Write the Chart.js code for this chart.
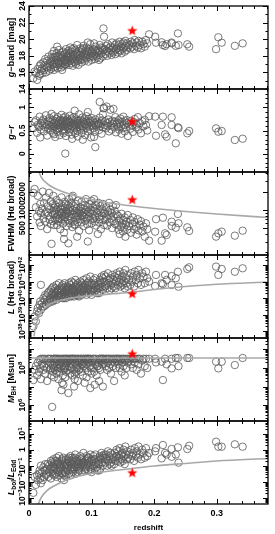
<!DOCTYPE html>
<html><head><meta charset="utf-8">
<style>html,body{margin:0;padding:0;background:#fff;overflow:hidden}canvas{display:block}</style>
<script src="https://cdn.jsdelivr.net/npm/chart.js@4.4.1/dist/chart.umd.min.js"></script>
</head><body>
<canvas id="c" width="275" height="534" style="width:275px;height:534px"></canvas>
<script>
// ---------------- data ----------------
const redshift = [
0.007,0.009,0.011,0.013,0.014,0.016,0.017,0.018,0.019,0.019,
0.021,0.022,0.023,0.024,0.025,0.026,0.027,0.028,0.029,0.030,0.031,0.032,0.033,0.034,0.035,0.035,0.036,0.037,0.038,0.038,0.039,0.039,0.040,0.040,0.040,
0.041,0.042,0.042,0.043,0.044,0.044,0.045,0.046,0.046,0.047,0.048,0.048,0.049,0.050,0.050,0.051,0.052,0.052,0.053,0.054,0.054,0.055,0.055,0.056,0.057,0.057,0.058,0.058,0.059,0.059,0.060,0.060,0.045,0.053,0.056,
0.061,0.062,0.062,0.063,0.064,0.064,0.065,0.066,0.066,0.067,0.068,0.068,0.069,0.070,0.070,0.071,0.072,0.072,0.073,0.074,0.074,0.075,0.076,0.076,0.077,0.078,0.078,0.079,0.080,0.080,0.058,0.069,0.073,0.077,0.063,
0.081,0.082,0.082,0.083,0.084,0.084,0.085,0.086,0.087,0.087,0.088,0.089,0.090,0.090,0.091,0.092,0.092,0.093,0.094,0.095,0.095,0.096,0.097,0.098,0.098,0.099,0.100,0.100,0.086,0.094,
0.101,0.102,0.103,0.104,0.105,0.106,0.106,0.107,0.108,0.109,0.113,0.111,0.112,0.113,0.114,0.115,0.116,0.117,0.118,0.119,0.120,0.110,0.104,0.112,0.118,
0.121,0.122,0.123,0.124,0.125,0.126,0.127,0.128,0.129,0.130,0.131,0.132,0.133,0.134,0.135,0.136,0.137,0.138,0.139,0.140,
0.141,0.142,0.143,0.144,0.145,0.146,0.147,0.148,0.149,0.150,0.151,0.152,0.153,0.154,0.155,0.156,0.157,0.158,
0.160,0.162,0.163,0.165,0.166,0.168,0.169,0.171,0.172,0.174,0.175,0.177,0.179,0.181,0.183,0.185,0.187,0.189,
0.192,0.2016,0.203,0.212,0.214,0.2175,0.220,0.228,0.228,0.2346,0.238,0.239,0.253,0.256,0.299,0.3026,0.308,0.329,0.3415
];
const gBand = [
15.3,16.1,15.9,15.1,16.4,15.6,16.8,15.8,16.2,17.0,
16.5,15.9,17.2,16.3,16.9,17.6,16.0,16.7,17.4,16.6,17.9,16.2,17.1,16.8,17.7,16.4,17.3,18.2,16.9,17.5,16.6,17.8,17.0,18.6,16.3,
17.2,17.9,16.7,17.5,18.3,17.0,17.6,16.5,18.0,17.3,18.7,17.1,17.8,16.9,18.1,17.4,16.6,17.7,18.4,17.2,17.9,16.8,18.5,17.5,17.0,18.2,17.6,16.9,18.8,17.3,17.8,18.3,19.1,16.3,17.4,
17.5,18.0,17.2,18.6,17.7,16.9,18.3,17.4,19.0,17.9,17.1,18.5,17.6,18.2,16.8,17.8,18.9,17.3,18.1,17.5,18.7,17.0,18.4,17.7,19.3,17.4,18.0,16.9,18.6,17.6,17.0,18.8,17.2,18.2,17.9,
18.1,17.5,18.9,17.8,18.4,17.2,18.7,18.0,17.6,19.2,18.3,17.4,18.6,17.9,18.2,19.0,17.7,18.5,18.1,17.3,18.8,18.4,17.8,18.6,19.4,18.0,18.3,17.5,18.9,19.6,
18.5,17.9,18.8,18.2,17.6,18.6,19.1,18.0,18.4,17.8,19.3,18.7,18.1,18.5,17.7,19.0,18.3,18.9,17.9,21.3,20.3,18.6,19.5,17.5,18.7,
18.8,18.2,19.2,18.6,18.0,19.4,18.5,18.9,18.3,19.1,18.7,18.1,19.6,18.4,19.0,18.6,19.3,18.2,18.8,19.5,
18.9,18.4,19.3,18.7,19.7,18.6,19.1,18.3,19.4,18.8,19.6,19.0,18.5,19.8,19.2,18.7,19.5,19.0,
19.3,18.9,19.7,19.1,19.5,18.8,19.9,19.2,19.6,19.0,19.8,19.3,18.9,19.7,19.4,19.1,19.9,19.5,
20.59,20.3,19.58,19.63,19.3,19.18,19.4,19.5,19.6,19.2,20.7,19.3,19.39,19.1,18.8,20.23,19.58,19.2,19.5
];
const gMinusR = [
0.55,0.68,0.72,0.45,0.62,0.58,0.80,0.35,0.66,0.52,
0.70,0.61,0.74,0.48,0.66,0.57,0.83,0.64,0.39,0.71,0.55,0.62,0.77,0.50,0.68,0.59,0.86,0.63,0.45,0.73,0.60,0.54,0.67,0.81,0.42,
0.58,0.70,0.36,0.64,0.52,0.75,0.61,0.47,0.79,0.66,0.55,0.69,0.40,0.62,0.73,0.57,0.84,0.65,0.50,0.72,0.60,0.44,0.77,0.63,0.68,0.53,0.80,0.59,0.66,0.38,0.71,0.58,0.62,0.70,0.48,
0.64,0.56,0.74,0.60,0.46,0.69,0.82,0.62,0.53,0.67,0.41,0.76,0.59,0.65,0.72,0.50,0.63,0.79,0.57,0.68,0.44,0.61,0.74,0.55,0.66,0.37,0.71,0.64,0.58,0.85,0.0,0.32,0.93,0.49,0.70,
0.62,0.54,0.73,0.67,0.45,0.60,0.78,0.58,0.69,0.51,0.64,0.74,0.40,0.63,0.70,0.56,0.81,0.61,0.48,0.68,0.75,0.59,0.66,0.52,0.71,0.35,0.63,0.77,0.30,0.90,
0.60,0.70,0.55,0.66,0.47,0.14,0.74,0.62,0.58,0.69,1.12,0.64,0.51,0.78,0.60,0.67,0.43,0.72,0.57,0.98,0.99,0.63,0.36,0.66,0.85,
0.62,0.70,0.55,1.02,0.66,0.59,0.74,0.48,0.68,0.95,0.61,0.52,0.71,0.65,0.97,0.57,0.69,0.79,0.46,0.63,
0.67,0.58,0.72,0.52,0.64,0.76,0.60,0.43,0.69,0.55,0.80,0.62,0.48,0.70,0.57,0.73,0.66,0.38,
0.64,0.54,0.71,0.60,0.47,0.68,0.75,0.57,0.63,0.79,0.52,0.66,0.44,0.70,0.59,0.73,0.62,0.50,
0.81,0.80,0.387,0.62,0.80,0.417,0.365,0.786,0.62,0.222,0.57,0.55,0.439,0.489,0.547,0.474,0.489,0.294,0.322
];
const fwhmHa = [
1900,2200,1100,780,1700,950,620,1250,880,540,
1050,2000,720,1300,860,640,1600,930,480,1150,800,1900,690,1020,580,1380,275,900,1250,650,1700,830,1080,560,960,
870,1200,680,990,760,1450,560,1100,820,650,940,1300,720,1050,480,880,1600,700,1000,590,1150,800,920,420,1350,750,1080,640,860,1250,540,970,700,850,330,
900,1200,680,1020,780,1500,600,950,1100,720,860,1300,520,990,1700,640,830,1150,560,940,760,1250,690,1050,880,620,1400,800,970,450,760,1600,580,360,280,
880,1100,700,940,620,1350,800,1050,540,900,760,1200,660,990,1500,720,850,580,1100,930,780,460,1250,690,890,1000,600,1400,820,300,
850,1100,720,960,640,1200,780,550,1050,880,700,1300,620,940,1150,480,800,1020,690,870,560,400,1500,760,1250,
900,680,1100,760,550,940,820,1300,620,1000,720,880,500,1150,780,650,960,580,1200,840,
560,800,470,660,400,720,530,860,600,440,680,510,750,360,570,630,470,820,
540,680,420,590,750,480,630,530,390,700,460,570,650,440,530,360,600,480,
310,436,700,310,741,410,385,637,541,507,853,600,515,448,361,410,436,375,453
];
const logLHa = [
38.3,38.9,38.6,39.2,39.4,39.1,39.6,39.8,40.8,39.3,
39.7,39.5,40.0,39.5,39.9,40.2,39.6,40.1,39.8,40.3,39.7,40.4,39.9,40.0,40.5,39.8,40.2,40.6,39.8,40.3,40.0,40.7,39.9,40.4,40.1,
40.2,40.6,40.0,40.3,40.8,39.9,40.4,40.1,40.5,40.2,40.9,40.0,40.3,40.6,40.1,40.4,40.7,40.2,40.5,40.0,40.8,40.3,40.6,40.1,40.4,40.9,40.2,40.5,40.7,40.0,40.3,40.6,40.4,40.2,40.0,
40.5,40.2,40.7,40.4,40.9,40.1,40.6,40.3,40.8,40.1,40.5,41.0,40.2,40.6,40.4,40.9,40.3,40.1,40.7,40.5,41.1,40.2,40.8,40.4,40.6,40.15,40.9,40.3,40.7,40.1,40.2,40.6,40.4,40.2,40.5,
40.6,40.3,41.0,40.5,40.8,40.2,40.9,40.4,40.7,41.1,40.5,40.3,40.8,40.6,40.4,41.2,40.2,40.9,40.6,40.3,41.0,40.7,40.5,40.8,41.3,40.4,40.9,40.2,40.6,40.5,
40.8,40.5,41.1,40.6,40.4,40.9,41.2,40.7,40.5,40.3,41.0,40.8,40.6,41.1,40.4,40.9,41.3,40.7,40.5,41.0,41.4,40.6,40.8,40.3,41.2,
41.0,40.7,41.3,40.8,40.6,41.5,40.9,41.1,40.5,41.2,40.8,40.6,41.4,40.9,41.1,40.7,41.3,40.6,41.0,41.5,
41.2,40.8,41.4,41.0,41.6,40.7,41.1,40.9,41.3,40.8,41.5,41.0,40.6,41.7,41.2,40.9,41.4,40.7,
41.1,40.8,41.5,41.0,41.3,40.7,41.6,41.1,41.4,40.9,41.7,41.2,40.8,41.5,41.3,40.9,41.6,41.2,
41.0,40.73,41.4,40.9,40.85,41.4,41.1,40.79,41.33,41.2,41.59,40.69,41.76,41.86,41.9,41.4,41.76,41.59,41.8
];
const logMBH = [
7.35,7.9,8.1,7.6,8.3,7.8,8.45,8.0,8.5,7.4,
8.2,8.5,7.9,8.1,8.5,7.7,8.4,8.0,7.3,8.5,8.2,8.5,7.9,8.3,8.0,8.5,7.6,5.9,8.1,7.8,8.5,8.2,7.5,8.5,8.0,
8.3,8.5,7.9,8.1,8.5,7.7,8.4,8.0,8.5,7.4,8.2,8.5,7.8,8.3,8.0,8.5,6.8,8.1,8.4,7.6,8.5,7.1,7.9,8.5,8.0,8.3,7.5,8.5,8.1,7.8,8.4,8.5,8.2,7.2,8.0,
8.3,8.5,7.9,6.65,8.4,8.1,8.5,7.7,8.3,8.5,8.0,8.4,7.6,8.5,8.2,7.9,8.5,7.0,7.4,8.3,8.5,7.8,8.4,8.0,8.5,7.3,8.2,8.5,7.9,8.3,8.1,8.5,7.7,8.0,8.4,
8.4,8.5,8.0,7.8,8.5,8.2,8.4,7.6,8.5,8.1,8.3,7.2,8.5,8.0,8.5,8.2,7.5,8.4,8.5,7.8,8.3,8.5,8.1,6.92,8.5,8.0,8.4,7.7,8.2,8.5,
8.3,8.5,8.0,7.8,7.1,8.2,8.4,8.5,7.6,8.1,8.5,8.3,8.0,8.5,7.9,8.4,8.5,8.2,7.0,8.5,8.3,8.1,8.5,7.3,8.5,
8.4,8.5,8.1,8.5,7.9,8.3,8.5,8.0,8.5,8.2,7.7,8.5,8.4,8.1,8.5,7.3,8.3,8.5,8.0,8.5,
8.4,8.5,8.2,8.5,8.0,8.4,8.5,7.8,8.3,8.5,8.1,8.5,7.6,8.4,8.5,8.0,8.3,8.5,
8.4,8.5,8.2,8.5,8.0,8.5,8.3,8.5,7.9,8.5,8.2,8.5,7.7,8.4,8.5,8.1,8.5,8.0,
8.5,8.5,8.3,8.34,7.35,8.5,8.2,7.98,8.5,8.54,8.54,8.1,8.54,8.54,8.34,7.98,8.34,8.16,8.54
];
const logEdd = [
-2.7,-1.7,-2.2,-1.6,-1.9,-1.5,-1.3,-1.8,-1.0,-2.1,
-1.4,-1.9,-1.1,-1.7,-1.3,-0.9,-1.6,-1.2,-1.5,-0.9,-1.7,-1.0,-1.4,-1.2,-0.7,-1.8,-1.1,-0.8,-1.5,-1.0,-1.3,-0.6,-1.6,-0.9,-1.2,
-1.1,-0.7,-1.5,-1.2,-0.5,-1.7,-0.9,-1.4,-0.8,-1.3,-0.4,-1.6,-1.0,-1.2,-0.9,-1.1,-1.8,-0.7,-0.6,-1.5,-0.9,-1.3,-0.5,-1.0,-1.6,-0.8,-1.2,-1.4,-0.6,-1.7,-0.9,-1.1,-0.7,-1.5,-1.9,
-0.9,-1.3,-0.6,-1.0,-0.5,-1.5,-0.8,-1.2,-0.4,-1.6,-1.1,-0.7,-0.9,-1.3,-1.4,-0.6,-0.8,-1.2,-0.5,-1.0,-0.3,-1.5,-0.7,-1.1,-0.6,-1.4,-0.9,-1.2,-0.8,-1.3,-1.0,-0.5,-1.1,-0.9,-0.7,
-0.7,-1.1,-0.4,-0.9,-0.6,-1.4,-0.5,-1.0,-0.8,-0.2,-0.9,-1.3,-0.7,-1.1,-1.2,-0.4,-1.0,-0.6,-0.9,-1.3,-0.5,-0.8,-1.1,-0.7,-0.3,-1.2,-0.6,-1.4,-0.8,-0.5,
-0.7,-1.0,-0.4,-0.9,-1.2,-0.6,-0.3,-0.8,-1.1,-1.3,-0.5,-0.7,-0.9,-0.4,-1.2,-0.6,-0.2,-0.8,-1.0,-0.5,-0.3,-0.9,-0.6,-1.3,-0.4,
-0.5,-0.8,-0.3,-0.6,-1.0,-0.1,-0.7,-0.4,-0.9,-0.2,-0.8,-1.0,-0.3,-0.6,-0.5,-0.9,-0.2,-0.7,-0.4,0.0,
-0.4,-0.7,-0.1,-0.5,0.1,-0.8,-0.3,-0.6,-0.2,-0.7,0.0,-0.4,-0.9,0.2,-0.3,-0.6,-0.1,-0.5,
-0.3,-0.6,0.0,-0.4,-0.2,-0.7,0.1,-0.4,-0.1,-0.5,0.2,-0.3,-0.6,0.0,-0.2,-0.5,0.1,-0.4,
-0.2,-0.1,0.1,-0.54,0.296,-0.2,-0.3,0.046,-0.44,-0.3,0.15,-0.81,0.046,0.25,0.503,0.19,0.19,0.34,0.19
];
// limit curves (grey lines)
const curveZ      = [0.008,0.01,0.015,0.02,0.03,0.04,0.06,0.08,0.1,0.13,0.165,0.2,0.25,0.3,0.382];
const fwhmLimit   = [8000,7140,4530,3400,2660,2290,1890,1625,1480,1295,1155,1052,938,853,747];
const logLumLimit = [37.7,38.2,38.8,39.2,39.55,39.75,39.95,40.07,40.15,40.25,40.36,40.52,40.7,40.84,40.97];
const logEddLimit = [-5.0,-4.1,-3.4,-2.96,-2.52,-2.27,-1.9,-1.65,-1.49,-1.33,-1.18,-1.02,-0.86,-0.71,-0.55];
const mbhLimitZ   = [0, 0.382];
const logMbhLimit = [8.54, 8.54];
// red star object
const starRedshift = [0.165];
const starG = [21.0], starGR = [0.69], starFWHM = [1452], starLogL = [40.25], starLogM = [8.75], starLogEdd = [-1.46];
// tick values and labels
const xTickValues = [0, 0.1, 0.2, 0.3];
const xTickLabels = ['0', '0.1', '0.2', '0.3'];
const gBandTicks = [14,16,18,20,22,24];
const gBandTickLabels = ['14','16','18','20','22','24'];
const gMinusRTicks = [0, 0.5, 1];
const gMinusRTickLabels = ['0','0.5','1'];
const fwhmTicks = [500, 1000, 2000];
const fwhmTickLabels = ['500','1000','2000'];
const lumTicks = [1e38,1e39,1e40,1e41,1e42];
const lumTickLabels = ['10^38','10^39','10^40','10^41','10^42'];
const mbhTicks = [1e6, 1e8];
const mbhTickLabels = ['10^6','10^8'];
const eddTicks = [1e-3,1e-2,1e-1,1,10];
const eddTickLabels = ['10^\u22123','10^\u22122','10^\u22121','1','10^1'];

// ---------------- helpers ----------------
const FONT = '"Liberation Sans", Arial, Helvetica, sans-serif';
Chart.defaults.font.family = FONT;
const pow10 = v => Math.pow(10, v);
function linMinor(min, max, step){const a=[];for(let k=Math.ceil(min/step-1e-9);k*step<=max+1e-9;k++)a.push(+(k*step).toFixed(6));return a;}
function logMinor(lo, hi){const a=[];for(let e=Math.floor(lo);e<=Math.ceil(hi);e++)for(let m=1;m<10;m++){const v=m*Math.pow(10,e);const lv=Math.log10(v);if(lv>=lo-1e-9&&lv<=hi+1e-9)a.push({v,major:m===1});}return a;}

const panels = [
  {id:'y1', type:'linear', min:14, max:24, vals:gBand, star:starG,
   ticks:linMinor(14,24,1).map(v=>({v,major:v%2===0})), labV:gBandTicks, labT:gBandTickLabels,
   title:[{t:'g',it:1},{t:'\u2212band [mag]'}], tOff:0},
  {id:'y2', type:'linear', min:-0.4, max:1.4, vals:gMinusR, star:starGR,
   ticks:linMinor(-0.4,1.4,0.1).map(v=>({v,major:Math.abs(v*2-Math.round(v*2))<1e-6})), labV:gMinusRTicks, labT:gMinusRTickLabels,
   title:[{t:'g',it:1},{t:'\u2212'},{t:'r',it:1}], tOff:2},
  {id:'y3', type:'logarithmic', min:180, max:4200, vals:fwhmHa, star:starFWHM, cx:curveZ, cy:fwhmLimit,
   ticks:logMinor(Math.log10(180),Math.log10(4200)).map(o=>({v:o.v,major:[500,1000,2000].includes(o.v)})), labV:fwhmTicks, labT:fwhmTickLabels,
   title:[{t:'FWHM (H\u03b1 broad)'}], tOff:0},
  {id:'y4', type:'logarithmic', min:pow10(37.6), max:pow10(42.6), vals:logLHa.map(pow10), star:starLogL.map(pow10), cx:curveZ, cy:logLumLimit.map(pow10),
   ticks:logMinor(37.6,42.6), labV:lumTicks, labT:lumTickLabels,
   title:[{t:'L',it:1},{t:' (H\u03b1 broad)'}], tOff:-9},
  {id:'y5', type:'logarithmic', min:pow10(5.14), max:pow10(9.62), vals:logMBH.map(pow10), star:starLogM.map(pow10), cx:mbhLimitZ, cy:logMbhLimit.map(pow10),
   ticks:logMinor(5.14,9.62), labV:mbhTicks, labT:mbhTickLabels,
   title:[{t:'M',it:1},{t:'BH',sub:1},{t:' [Msun]'}], tOff:-1},
  {id:'y6', type:'logarithmic', min:pow10(-3.4), max:pow10(1.8), vals:logEdd.map(pow10), star:starLogEdd.map(pow10), cx:curveZ, cy:logEddLimit.map(pow10),
   ticks:logMinor(-3.4,1.8), labV:eddTicks, labT:eddTickLabels,
   title:[{t:'L',it:1},{t:'bol',sub:1},{t:'/'},{t:'L',it:1},{t:'Edd',sub:1}], tOff:15}
];

function makeStar(r){
  const s=Math.ceil(r*2+2), c=document.createElement('canvas'); c.width=s; c.height=s;
  const g=c.getContext('2d'); g.fillStyle='#ff0000'; g.beginPath();
  for(let i=0;i<10;i++){const rr=i%2===0?r:r*0.42;const a=-Math.PI/2+i*Math.PI/5;g.lineTo(s/2+rr*Math.cos(a),s/2+rr*Math.sin(a));}
  g.closePath(); g.fill(); return c;
}
const starImg = makeStar(5.4);

function drawRich(ctx, segs, cx, cy, size){
  const items = segs.map(s=>{
    const fs = (s.sup||s.sub) ? size*0.72 : size;
    const font = (s.it?'italic ':'')+'bold '+fs+'px '+FONT;
    ctx.font = font;
    return {s, font, w:ctx.measureText(s.t).width};
  });
  const W = items.reduce((a,b)=>a+b.w,0);
  ctx.save(); ctx.translate(cx,cy); ctx.rotate(-Math.PI/2);
  ctx.textAlign='left'; ctx.textBaseline='alphabetic'; ctx.fillStyle='#000';
  let x=-W/2; const base=size*0.36;
  items.forEach(it=>{
    ctx.font=it.font;
    const dy = it.s.sup ? -size*0.4 : it.s.sub ? size*0.25 : 0;
    ctx.fillText(it.s.t, x, base+dy); x+=it.w;
  });
  ctx.restore();
}
function labelSegs(t){ if(t.indexOf('^')<0) return [{t}]; const p=t.split('^'); return [{t:p[0]},{t:p[1],sup:1}]; }

const clipPlugin = {
  id:'panelClip',
  beforeDatasetDraw(chart,args){
    const ys=chart.scales[args.meta.yAxisID], ca=chart.chartArea, ctx=chart.ctx;
    ctx.save(); ctx.beginPath(); ctx.rect(ca.left, ys.top, ca.right-ca.left, ys.bottom-ys.top); ctx.clip();
  },
  afterDatasetDraw(chart){ chart.ctx.restore(); }
};
const framePlugin = {
  id:'frames',
  afterDatasetsDraw(chart){
    const ctx=chart.ctx, ca=chart.chartArea, xs=chart.scales.x;
    const l=ca.left, r=ca.right;
    ctx.save();
    panels.forEach(p=>{
      const ys=chart.scales[p.id], top=ys.top, bot=ys.bottom;
      ctx.strokeStyle='#000'; ctx.lineWidth=1; ctx.beginPath();
      linMinor(0,0.382,0.02).forEach(v=>{
        const x=Math.round(xs.getPixelForValue(v))+0.5;
        const major=Math.abs(v*10-Math.round(v*10))<1e-6;
        const len=major?5:3;
        ctx.moveTo(x,top); ctx.lineTo(x,top+len);
        ctx.moveTo(x,bot); ctx.lineTo(x,bot-len);
      });
      p.ticks.forEach(o=>{
        const y=Math.round(ys.getPixelForValue(o.v))+0.5;
        if(y<top-0.1||y>bot+0.1) return;
        const len=o.major?5:2.5;
        ctx.moveTo(l,y); ctx.lineTo(l+len,y);
        ctx.moveTo(r,y); ctx.lineTo(r-len,y);
      });
      ctx.stroke();
      ctx.lineWidth=1.3; ctx.strokeRect(l,top,r-l,bot-top);
      p.labV.forEach((v,i)=>{ drawRich(ctx, labelSegs(p.labT[i]), 22, ys.getPixelForValue(v), 8.5); });
      drawRich(ctx, p.title, 10.5, (top+bot)/2 + p.tOff, 9);
    });
    ctx.restore();
  }
};

// ---------------- datasets & scales ----------------
const datasets = [];
const scales = {
  x:{type:'linear', position:'bottom', min:0, max:0.382,
     afterBuildTicks:s=>{s.ticks=xTickValues.map(v=>({value:v}));},
     ticks:{autoSkip:false, maxRotation:0, padding:4, color:'#000', font:{size:9, weight:'bold'},
            callback:(v)=>{const i=xTickValues.indexOf(v);return i>=0?xTickLabels[i]:'';}},
     grid:{display:false, drawTicks:false}, border:{display:false},
     title:{display:true, text:'redshift', color:'#000', font:{size:8, weight:'bold'}, padding:{top:0,bottom:1}},
     afterFit:s=>{s.height=30;}}
};
panels.forEach((p,k)=>{
  scales[p.id] = {type:p.type, position:'left', stack:'panels', stackWeight:1, weight:10-k,
    min:p.min, max:p.max, ticks:{display:false}, grid:{display:false, drawTicks:false}, border:{display:false},
    afterFit:s=>{s.width=0;}};
  datasets.push({data:redshift.map((z,i)=>({x:z,y:p.vals[i]})), yAxisID:p.id, xAxisID:'x',
    pointRadius:3.7, pointBorderWidth:0.8, pointBorderColor:'#595959', pointBackgroundColor:'rgba(0,0,0,0)', order:3});
  if(p.cx) datasets.push({data:p.cx.map((z,i)=>({x:z,y:p.cy[i]})), yAxisID:p.id, xAxisID:'x', showLine:true,
    borderColor:'#a8a8a8', borderWidth:1.6, pointRadius:0, cubicInterpolationMode:'monotone', order:2});
  datasets.push({data:starRedshift.map((z,i)=>({x:z,y:p.star[i]})), yAxisID:p.id, xAxisID:'x',
    pointStyle:starImg, pointRadius:5, order:1});
});

new Chart(document.getElementById('c'), {
  type:'scatter',
  data:{datasets},
  options:{
    responsive:false, animation:false, devicePixelRatio:1,
    layout:{padding:{left:29, right:7, top:6, bottom:0}},
    plugins:{legend:{display:false}, tooltip:{enabled:false}},
    events:[],
    scales
  },
  plugins:[clipPlugin, framePlugin]
});
</script>
</body></html>
